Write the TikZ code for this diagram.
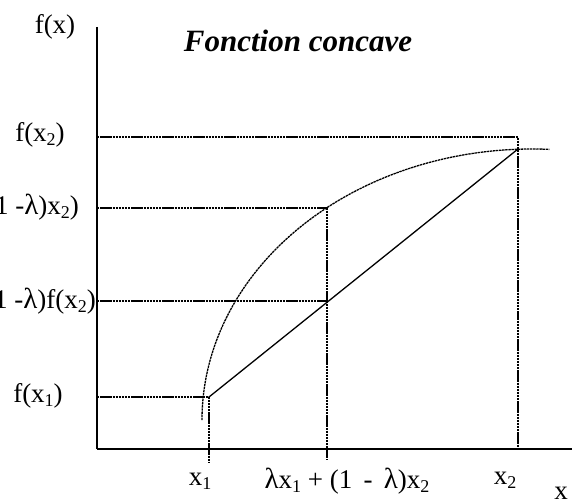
\documentclass[tikz,border=0pt]{standalone}
\usepackage{fontspec}
\setmainfont{Liberation Serif}
\newcommand{\lo}[1]{\raisebox{-0.35ex}{\fontsize{18}{18}\selectfont #1}}
\newcommand{\lam}{{\fontsize{29}{29}\selectfont λ}}
\tikzset{
  lab/.style={inner sep=0pt, font=\fontsize{27}{29}\selectfont},
  guide/.style={line width=1.3pt, dash pattern=on 2.4pt off 0.7pt},
  axis/.style={line width=1.6pt},
}
\begin{document}
\begin{tikzpicture}[x=1pt,y=1pt]
\useasboundingbox (0,0) rectangle (572,499);
% key points
\coordinate (O) at (97,50);
\coordinate (ytop) at (97,472);
\coordinate (xend) at (572,50);
\coordinate (A) at (209,102);   % (x1, f(x1))
\coordinate (B) at (518,350);   % (x2, f(x2))
\coordinate (M) at (327,198);   % chord point
\coordinate (C) at (327,291);   % curve point
\coordinate (L2) at (97,362);
\coordinate (R2) at (518,362);
\coordinate (B2) at (518,50);
\coordinate (LU) at (97,291);
\coordinate (LL) at (97,198);
\coordinate (BM) at (327,39);
\coordinate (L1) at (97,102);
\coordinate (B1) at (209,37);
\coordinate (S) at (202,79);    % start of curve
% axes
\draw[axis] (ytop) -- (O);
\draw[line width=2.4pt] (O) -- (xend);
% guides
\draw[guide] (L2) -- (R2) -- (B2);
\draw[guide] (LU) -- (C) -- (BM);
\draw[guide] (LL) -- (M);
\draw[guide] (L1) -- (A) -- (B1);
% chord
\draw[line width=1.3pt] (A) -- (B);
% curve (quarter ellipse)
\draw[guide] (S) arc[start angle=180, end angle=87, x radius=330, y radius=271];
% labels
\node[lab] (fx) at (55,472) {f(x)};
\node[lab] (fx2) at (40,364) {f(x\lo{2})};
\node[lab, anchor=east] (fup) at (79,292) {f(\lam x\lo{1} + (1 -\lam)x\lo{2})};
\node[lab, anchor=east] (flo) at (96,198) {\lam f(x\lo{1}) + (1 -\lam)f(x\lo{2})};
\node[lab] (fx1) at (38,103) {f(x\lo{1})};
\node[lab] (x1) at (200,18) {x\lo{1}};
\node[lab] (xm) at (347,18) {\lam x\lo{1} + (1 \,-\, \lam)x\lo{2}};
\node[lab] (x2) at (505,19) {x\lo{2}};
\node[lab] (xl) at (561,6) {x};
\node[inner sep=0pt, font=\fontsize{31}{33}\selectfont\bfseries\itshape] (title) at (298,458) {Fonction concave};
\end{tikzpicture}
\end{document}
